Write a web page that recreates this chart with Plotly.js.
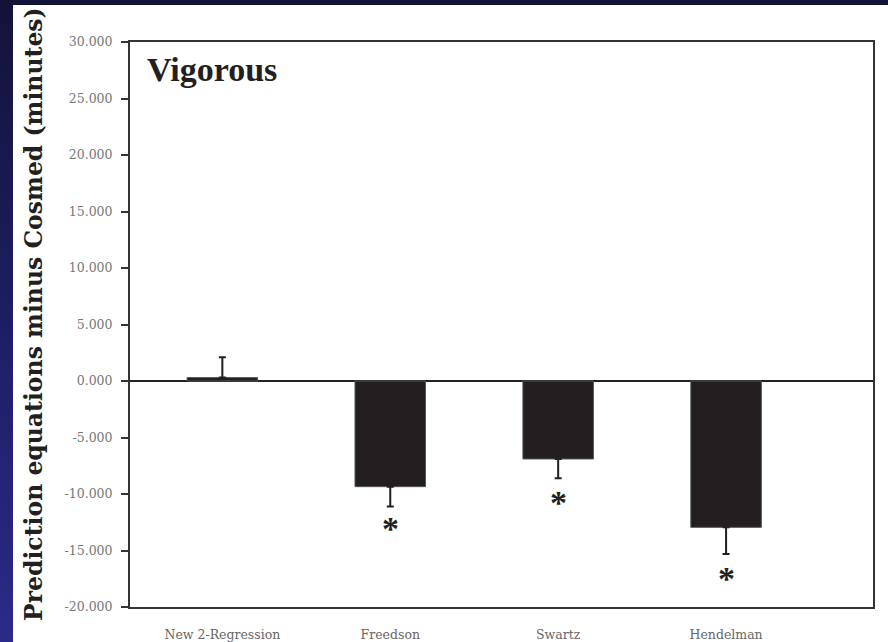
<!DOCTYPE html>
<html>
<head>
<meta charset="utf-8">
<script src="https://cdn.plot.ly/plotly-3.0.1.min.js"></script>
<style>
html,body{margin:0;padding:0;width:888px;height:642px;overflow:hidden;
background:linear-gradient(180deg,#131338 0%,#1d1c60 45%,#2b2a88 100%);}
#chart{width:888px;height:642px;}
</style>
</head>
<body>
<div id="chart"></div>
<script>
const categories = ["New 2-Regression", "Freedson", "Swartz", "Hendelman"];
const means = [0.3, -9.35, -6.9, -12.95];
const errUp = [1.8, 0, 0, 0];
const errDown = [0, 1.75, 1.7, 2.35];
const starLabels = ["", "*", "*", "*"];
const starY = [null, -12.65, -10.35, -17.0];
const yTickVals = [30, 25, 20, 15, 10, 5, 0, -5, -10, -15, -20];
const yTickText = ["30.000","25.000","20.000","15.000","10.000","5.000","0.000","-5.000","-10.000","-15.000","-20.000"];
const panelTitle = "Vigorous";
const yTitle = "Prediction equations minus Cosmed (minutes)";

const L = 130, R = 873, T = 42, B = 607, W = 888, H = 642;
const px = x => (x - L) / (R - L);
const py = y => (B - y) / (B - T);

const bars = {
  type: "bar",
  x: categories,
  y: means,
  width: 0.42,
  marker: {color: "#231f20", line: {color: "#555", width: 1}},
  error_y: {type: "data", symmetric: false, array: errUp, arrayminus: errDown,
            color: "#231f20", thickness: 2, width: 3.5},
  hoverinfo: "none",
  showlegend: false
};

const starNotes = categories.map((c, i) => starLabels[i] ? ({
  xref: "x", yref: "y", x: c, y: starY[i], text: "<b>" + starLabels[i] + "</b>", showarrow: false,
  xanchor: "center", yanchor: "middle", yshift: -5,
  font: {family: "Liberation Serif", size: 34, color: "#231f20"}
}) : null).filter(a => a);

const layout = {
  width: W, height: H,
  margin: {l: L, r: W - R, t: T, b: H - B, pad: 0},
  paper_bgcolor: "rgba(0,0,0,0)",
  plot_bgcolor: "#ffffff",
  font: {family: "DejaVu Serif", color: "#555"},
  xaxis: {
    type: "category",
    range: [-0.55, 3.875],
    showline: true, linecolor: "#333", linewidth: 2, mirror: true,
    ticks: "outside", ticklen: 15, tickcolor: "rgba(0,0,0,0)",
    tickfont: {family: "DejaVu Serif", size: 12.5, color: "#666"},
    showgrid: false, zeroline: false, fixedrange: true
  },
  yaxis: {
    range: [-20, 30],
    tickvals: yTickVals, ticktext: yTickText,
    showline: true, linecolor: "#333", linewidth: 2, mirror: true,
    ticks: "outside", ticklen: 7, tickwidth: 2, tickcolor: "#333",
    ticklabelstandoff: 6,
    tickfont: {family: "DejaVu Serif", size: 12.5, color: "#777"},
    showgrid: false,
    zeroline: true, zerolinecolor: "#222", zerolinewidth: 1.5,
    fixedrange: true
  },
  shapes: [{
    type: "rect", xref: "paper", yref: "paper", layer: "below",
    x0: px(13), x1: px(890), y0: py(644), y1: py(5),
    fillcolor: "#ffffff", line: {width: 0}
  }],
  annotations: [
    {xref: "paper", yref: "paper", x: px(145), y: py(69), xanchor: "left", yanchor: "middle",
     text: "<b>" + panelTitle + "</b>", showarrow: false,
     font: {family: "Liberation Serif", size: 34, color: "#231f20"}},
    {xref: "paper", yref: "paper", x: px(34), y: py(314), xanchor: "center", yanchor: "middle",
     text: "<b>" + yTitle + "</b>", textangle: -90, showarrow: false,
     font: {family: "DejaVu Serif", size: 23.5, color: "#231f20"}}
  ].concat(starNotes)
};

Plotly.newPlot("chart", [bars], layout, {displayModeBar: false, staticPlot: true});
</script>
</body>
</html>
